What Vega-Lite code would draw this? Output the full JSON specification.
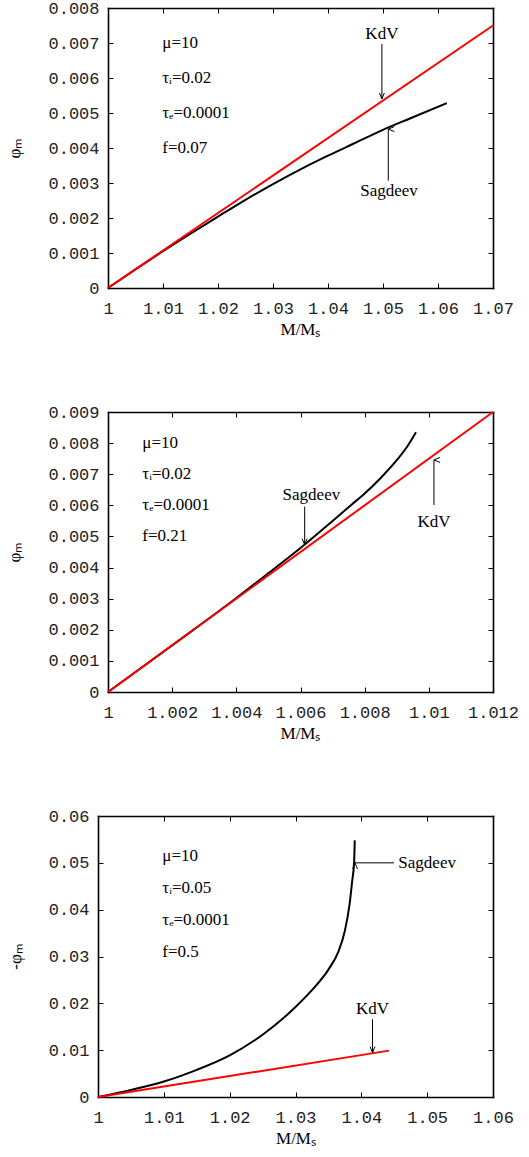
{
  "$schema": "https://vega.github.io/schema/vega-lite/v6.json",
  "padding": {"left": 5, "top": -1, "right": 0, "bottom": 0},
  "background": "white",
  "datasets": {
    "curves": [
      {"panel": 1, "model": "Sagdeev", "x": 1.0, "y": 0.0},
      {"panel": 1, "model": "Sagdeev", "x": 1.005, "y": 0.00053},
      {"panel": 1, "model": "Sagdeev", "x": 1.01, "y": 0.00105},
      {"panel": 1, "model": "Sagdeev", "x": 1.015, "y": 0.00155},
      {"panel": 1, "model": "Sagdeev", "x": 1.02, "y": 0.00204},
      {"panel": 1, "model": "Sagdeev", "x": 1.025, "y": 0.00252},
      {"panel": 1, "model": "Sagdeev", "x": 1.03, "y": 0.00297},
      {"panel": 1, "model": "Sagdeev", "x": 1.035, "y": 0.00339},
      {"panel": 1, "model": "Sagdeev", "x": 1.04, "y": 0.00378},
      {"panel": 1, "model": "Sagdeev", "x": 1.045, "y": 0.00415},
      {"panel": 1, "model": "Sagdeev", "x": 1.05, "y": 0.00452},
      {"panel": 1, "model": "Sagdeev", "x": 1.055, "y": 0.00485},
      {"panel": 1, "model": "Sagdeev", "x": 1.0616, "y": 0.00528},
      {"panel": 1, "model": "KdV", "x": 1.0, "y": 0.0},
      {"panel": 1, "model": "KdV", "x": 1.07, "y": 0.0075},
      {"panel": 2, "model": "Sagdeev", "x": 1.0, "y": 0.0},
      {"panel": 2, "model": "Sagdeev", "x": 1.002, "y": 0.0015},
      {"panel": 2, "model": "Sagdeev", "x": 1.004, "y": 0.00302},
      {"panel": 2, "model": "Sagdeev", "x": 1.005, "y": 0.00382},
      {"panel": 2, "model": "Sagdeev", "x": 1.006, "y": 0.00463},
      {"panel": 2, "model": "Sagdeev", "x": 1.007, "y": 0.0055},
      {"panel": 2, "model": "Sagdeev", "x": 1.0076, "y": 0.00603},
      {"panel": 2, "model": "Sagdeev", "x": 1.008, "y": 0.00638},
      {"panel": 2, "model": "Sagdeev", "x": 1.0085, "y": 0.00688},
      {"panel": 2, "model": "Sagdeev", "x": 1.009, "y": 0.00745},
      {"panel": 2, "model": "Sagdeev", "x": 1.0093, "y": 0.00785},
      {"panel": 2, "model": "Sagdeev", "x": 1.0096, "y": 0.00835},
      {"panel": 2, "model": "KdV", "x": 1.0, "y": 0.0},
      {"panel": 2, "model": "KdV", "x": 1.012, "y": 0.009},
      {"panel": 3, "model": "Sagdeev", "x": 1.0, "y": 0.0},
      {"panel": 3, "model": "Sagdeev", "x": 1.005, "y": 0.0015},
      {"panel": 3, "model": "Sagdeev", "x": 1.01, "y": 0.0033},
      {"panel": 3, "model": "Sagdeev", "x": 1.015, "y": 0.0058},
      {"panel": 3, "model": "Sagdeev", "x": 1.02, "y": 0.0089},
      {"panel": 3, "model": "Sagdeev", "x": 1.025, "y": 0.0133},
      {"panel": 3, "model": "Sagdeev", "x": 1.03, "y": 0.0192},
      {"panel": 3, "model": "Sagdeev", "x": 1.033, "y": 0.0236},
      {"panel": 3, "model": "Sagdeev", "x": 1.035, "y": 0.0272},
      {"panel": 3, "model": "Sagdeev", "x": 1.0365, "y": 0.031},
      {"panel": 3, "model": "Sagdeev", "x": 1.0375, "y": 0.0355},
      {"panel": 3, "model": "Sagdeev", "x": 1.0382, "y": 0.041},
      {"panel": 3, "model": "Sagdeev", "x": 1.0386, "y": 0.046},
      {"panel": 3, "model": "Sagdeev", "x": 1.0389, "y": 0.05},
      {"panel": 3, "model": "Sagdeev", "x": 1.039, "y": 0.0548},
      {"panel": 3, "model": "KdV", "x": 1.0, "y": 0.0},
      {"panel": 3, "model": "KdV", "x": 1.0442, "y": 0.0099}
    ],
    "params": [
      {"panel": 1, "x": 1.00987, "y": 0.007, "text": "μ=10"},
      {"panel": 1, "x": 1.00987, "y": 0.006, "text": "τᵢ=0.02"},
      {"panel": 1, "x": 1.00987, "y": 0.005, "text": "τₑ=0.0001"},
      {"panel": 1, "x": 1.00987, "y": 0.004, "text": "f=0.07"},
      {"panel": 2, "x": 1.00107, "y": 0.008, "text": "μ=10"},
      {"panel": 2, "x": 1.00107, "y": 0.007, "text": "τᵢ=0.02"},
      {"panel": 2, "x": 1.00107, "y": 0.006, "text": "τₑ=0.0001"},
      {"panel": 2, "x": 1.00107, "y": 0.005, "text": "f=0.21"},
      {"panel": 3, "x": 1.00977, "y": 0.0515, "text": "μ=10"},
      {"panel": 3, "x": 1.00977, "y": 0.0446, "text": "τᵢ=0.05"},
      {"panel": 3, "x": 1.00977, "y": 0.0377, "text": "τₑ=0.0001"},
      {"panel": 3, "x": 1.00977, "y": 0.0309, "text": "f=0.5"}
    ],
    "names": [
      {"panel": 1, "x": 1.0498, "y": 0.00726, "text": "KdV"},
      {"panel": 1, "x": 1.0511, "y": 0.00278, "text": "Sagdeev"},
      {"panel": 2, "x": 1.00634, "y": 0.00633, "text": "Sagdeev"},
      {"panel": 2, "x": 1.01016, "y": 0.00547, "text": "KdV"},
      {"panel": 3, "x": 1.05, "y": 0.05, "text": "Sagdeev"},
      {"panel": 3, "x": 1.0417, "y": 0.0187, "text": "KdV"}
    ],
    "arrows": [
      {"panel": 1, "x": 1.0498, "y": 0.00697, "x2": 1.0498, "y2": 0.0054, "dir": "down"},
      {"panel": 1, "x": 1.05096, "y": 0.00307, "x2": 1.05096, "y2": 0.00454, "dir": "up"},
      {"panel": 2, "x": 1.00613, "y": 0.00596, "x2": 1.00613, "y2": 0.00473, "dir": "down"},
      {"panel": 2, "x": 1.01016, "y": 0.00601, "x2": 1.01016, "y2": 0.00746, "dir": "up"},
      {"panel": 3, "x": 1.04497, "y": 0.05, "x2": 1.03904, "y2": 0.05, "dir": "left"},
      {"panel": 3, "x": 1.0417, "y": 0.0166, "x2": 1.0417, "y2": 0.00946, "dir": "down"}
    ]
  },
  "vconcat": [
    {
      "width": 395,
      "height": 280,
      "layer": [
        {
          "data": {"name": "curves"},
          "transform": [{"filter": "datum.panel == 1 && datum.model == 'Sagdeev'"}],
          "mark": {"type": "line", "color": "black", "strokeWidth": 2, "interpolate": "monotone"},
          "encoding": {
            "x": {"field": "x", "type": "quantitative", "scale": {"domain": [1, 1.07], "range": [10, 395], "nice": false, "zero": false},
              "axis": {"orient": "bottom", "values": [1, 1.01, 1.02, 1.03, 1.04, 1.05, 1.06, 1.07], "labelExpr": "format(datum.value, '.2~f')", "title": "M/Mₛ", "titleX": 202}},
            "y": {"field": "y", "type": "quantitative", "scale": {"domain": [0, 0.008], "nice": false, "zero": false},
              "axis": {"orient": "left", "offset": -10, "values": [0, 0.001, 0.002, 0.003, 0.004, 0.005, 0.006, 0.007, 0.008], "labelExpr": "format(datum.value, '.3~f')", "title": "φₘ"}}
          }
        },
        {
          "data": {"name": "curves"},
          "transform": [{"filter": "datum.panel == 1 && datum.model == 'KdV'"}],
          "mark": {"type": "line", "color": "#ff0000", "strokeWidth": 2},
          "encoding": {
            "x": {"field": "x", "type": "quantitative", "axis": {"orient": "top", "values": [1, 1.01, 1.02, 1.03, 1.04, 1.05, 1.06, 1.07], "labels": false, "title": null}},
            "y": {"field": "y", "type": "quantitative", "axis": {"orient": "right", "values": [0, 0.001, 0.002, 0.003, 0.004, 0.005, 0.006, 0.007, 0.008], "labels": false, "title": null}}
          }
        },
        {
          "data": {"name": "params"},
          "transform": [{"filter": "datum.panel == 1"}],
          "mark": {"type": "text", "align": "left", "baseline": "middle", "font": "Liberation Serif", "fontSize": 17, "color": "black"},
          "encoding": {"x": {"field": "x", "type": "quantitative", "axis": null}, "y": {"field": "y", "type": "quantitative", "axis": null}, "text": {"field": "text"}}
        },
        {
          "data": {"name": "names"},
          "transform": [{"filter": "datum.panel == 1"}],
          "mark": {"type": "text", "align": "center", "baseline": "middle", "font": "Liberation Serif", "fontSize": 17, "color": "black"},
          "encoding": {"x": {"field": "x", "type": "quantitative", "axis": null}, "y": {"field": "y", "type": "quantitative", "axis": null}, "text": {"field": "text"}}
        },
        {
          "data": {"name": "arrows"},
          "transform": [{"filter": "datum.panel == 1"}],
          "mark": {"type": "rule", "color": "black", "strokeWidth": 1},
          "encoding": {"x": {"field": "x", "type": "quantitative", "axis": null}, "y": {"field": "y", "type": "quantitative", "axis": null}, "x2": {"field": "x2"}, "y2": {"field": "y2"}}
        },
        {
          "data": {"name": "arrows"},
          "transform": [{"filter": "datum.panel == 1"}],
          "mark": {"type": "point", "shape": "M-0.4,-1L0,0L0.4,-1", "filled": false, "size": 150, "color": "black", "strokeWidth": 1, "opacity": 1},
          "encoding": {"x": {"field": "x2", "type": "quantitative", "axis": null}, "y": {"field": "y2", "type": "quantitative", "axis": null},
            "angle": {"field": "dir", "type": "nominal", "scale": {"domain": ["down", "up", "left"], "range": [0, 180, 90]}, "legend": null}}
        }
      ],
      "resolve": {"axis": {"x": "independent", "y": "independent"}}
    },
    {
      "width": 395,
      "height": 280,
      "layer": [
        {
          "data": {"name": "curves"},
          "transform": [{"filter": "datum.panel == 2 && datum.model == 'Sagdeev'"}],
          "mark": {"type": "line", "color": "black", "strokeWidth": 2, "interpolate": "monotone"},
          "encoding": {
            "x": {"field": "x", "type": "quantitative", "scale": {"domain": [1, 1.012], "range": [10, 395], "nice": false, "zero": false},
              "axis": {"orient": "bottom", "values": [1, 1.002, 1.004, 1.006, 1.008, 1.01, 1.012], "labelExpr": "format(datum.value, '.3~f')", "title": "M/Mₛ", "titleX": 202}},
            "y": {"field": "y", "type": "quantitative", "scale": {"domain": [0, 0.009], "nice": false, "zero": false},
              "axis": {"orient": "left", "offset": -10, "values": [0, 0.001, 0.002, 0.003, 0.004, 0.005, 0.006, 0.007, 0.008, 0.009], "labelExpr": "format(datum.value, '.3~f')", "title": "φₘ"}}
          }
        },
        {
          "data": {"name": "curves"},
          "transform": [{"filter": "datum.panel == 2 && datum.model == 'KdV'"}],
          "mark": {"type": "line", "color": "#ff0000", "strokeWidth": 2},
          "encoding": {
            "x": {"field": "x", "type": "quantitative", "axis": {"orient": "top", "values": [1, 1.002, 1.004, 1.006, 1.008, 1.01, 1.012], "labels": false, "title": null}},
            "y": {"field": "y", "type": "quantitative", "axis": {"orient": "right", "values": [0, 0.001, 0.002, 0.003, 0.004, 0.005, 0.006, 0.007, 0.008, 0.009], "labels": false, "title": null}}
          }
        },
        {
          "data": {"name": "params"},
          "transform": [{"filter": "datum.panel == 2"}],
          "mark": {"type": "text", "align": "left", "baseline": "middle", "font": "Liberation Serif", "fontSize": 17, "color": "black"},
          "encoding": {"x": {"field": "x", "type": "quantitative", "axis": null}, "y": {"field": "y", "type": "quantitative", "axis": null}, "text": {"field": "text"}}
        },
        {
          "data": {"name": "names"},
          "transform": [{"filter": "datum.panel == 2"}],
          "mark": {"type": "text", "align": "center", "baseline": "middle", "font": "Liberation Serif", "fontSize": 17, "color": "black"},
          "encoding": {"x": {"field": "x", "type": "quantitative", "axis": null}, "y": {"field": "y", "type": "quantitative", "axis": null}, "text": {"field": "text"}}
        },
        {
          "data": {"name": "arrows"},
          "transform": [{"filter": "datum.panel == 2"}],
          "mark": {"type": "rule", "color": "black", "strokeWidth": 1},
          "encoding": {"x": {"field": "x", "type": "quantitative", "axis": null}, "y": {"field": "y", "type": "quantitative", "axis": null}, "x2": {"field": "x2"}, "y2": {"field": "y2"}}
        },
        {
          "data": {"name": "arrows"},
          "transform": [{"filter": "datum.panel == 2"}],
          "mark": {"type": "point", "shape": "M-0.4,-1L0,0L0.4,-1", "filled": false, "size": 150, "color": "black", "strokeWidth": 1, "opacity": 1},
          "encoding": {"x": {"field": "x2", "type": "quantitative", "axis": null}, "y": {"field": "y2", "type": "quantitative", "axis": null},
            "angle": {"field": "dir", "type": "nominal", "scale": {"domain": ["down", "up", "left"], "range": [0, 180, 90]}, "legend": null}}
        }
      ],
      "resolve": {"axis": {"x": "independent", "y": "independent"}}
    },
    {
      "width": 395,
      "height": 281,
      "layer": [
        {
          "data": {"name": "curves"},
          "transform": [{"filter": "datum.panel == 3 && datum.model == 'Sagdeev'"}],
          "mark": {"type": "line", "color": "black", "strokeWidth": 2, "interpolate": "monotone"},
          "encoding": {
            "x": {"field": "x", "type": "quantitative", "scale": {"domain": [1, 1.06], "nice": false, "zero": false},
              "axis": {"orient": "bottom", "values": [1, 1.01, 1.02, 1.03, 1.04, 1.05, 1.06], "labelExpr": "format(datum.value, '.2~f')", "title": "M/Mₛ"}},
            "y": {"field": "y", "type": "quantitative", "scale": {"domain": [0, 0.06], "nice": false, "zero": false},
              "axis": {"orient": "left", "values": [0, 0.01, 0.02, 0.03, 0.04, 0.05, 0.06], "labelExpr": "format(datum.value, '.2~f')", "title": "-φₘ"}}
          }
        },
        {
          "data": {"name": "curves"},
          "transform": [{"filter": "datum.panel == 3 && datum.model == 'KdV'"}],
          "mark": {"type": "line", "color": "#ff0000", "strokeWidth": 2},
          "encoding": {
            "x": {"field": "x", "type": "quantitative", "axis": {"orient": "top", "values": [1, 1.01, 1.02, 1.03, 1.04, 1.05, 1.06], "labels": false, "title": null}},
            "y": {"field": "y", "type": "quantitative", "axis": {"orient": "right", "values": [0, 0.01, 0.02, 0.03, 0.04, 0.05, 0.06], "labels": false, "title": null}}
          }
        },
        {
          "data": {"name": "params"},
          "transform": [{"filter": "datum.panel == 3"}],
          "mark": {"type": "text", "align": "left", "baseline": "middle", "font": "Liberation Serif", "fontSize": 17, "color": "black"},
          "encoding": {"x": {"field": "x", "type": "quantitative", "axis": null}, "y": {"field": "y", "type": "quantitative", "axis": null}, "text": {"field": "text"}}
        },
        {
          "data": {"name": "names"},
          "transform": [{"filter": "datum.panel == 3"}],
          "mark": {"type": "text", "align": "center", "baseline": "middle", "font": "Liberation Serif", "fontSize": 17, "color": "black"},
          "encoding": {"x": {"field": "x", "type": "quantitative", "axis": null}, "y": {"field": "y", "type": "quantitative", "axis": null}, "text": {"field": "text"}}
        },
        {
          "data": {"name": "arrows"},
          "transform": [{"filter": "datum.panel == 3"}],
          "mark": {"type": "rule", "color": "black", "strokeWidth": 1},
          "encoding": {"x": {"field": "x", "type": "quantitative", "axis": null}, "y": {"field": "y", "type": "quantitative", "axis": null}, "x2": {"field": "x2"}, "y2": {"field": "y2"}}
        },
        {
          "data": {"name": "arrows"},
          "transform": [{"filter": "datum.panel == 3"}],
          "mark": {"type": "point", "shape": "M-0.4,-1L0,0L0.4,-1", "filled": false, "size": 150, "color": "black", "strokeWidth": 1, "opacity": 1},
          "encoding": {"x": {"field": "x2", "type": "quantitative", "axis": null}, "y": {"field": "y2", "type": "quantitative", "axis": null},
            "angle": {"field": "dir", "type": "nominal", "scale": {"domain": ["down", "up", "left"], "range": [0, 180, 90]}, "legend": null}}
        }
      ],
      "resolve": {"axis": {"x": "independent", "y": "independent"}}
    }
  ],
  "bounds": "full",
  "spacing": 66,
  "config": {
    "view": {"stroke": null},
    "axis": {
      "grid": false, "domain": true, "domainColor": "black", "domainWidth": 1.6, "domainCap": "square",
      "ticks": true, "tickColor": "black", "tickSize": -5, "tickWidth": 1,
      "labelFont": "Liberation Mono", "labelFontSize": 17, "labelColor": "#222222", "labelPadding": 14, "labelFlush": false, "labelOverlap": false,
      "titleFont": "Liberation Serif", "titleFontSize": 17, "titleFontWeight": "normal", "titleColor": "black"
    },
    "axisBottom": {"labelDx": 4, "labelPadding": 17, "titlePadding": 5},
    "axisLeft": {"titlePadding": 24}
  }
}
